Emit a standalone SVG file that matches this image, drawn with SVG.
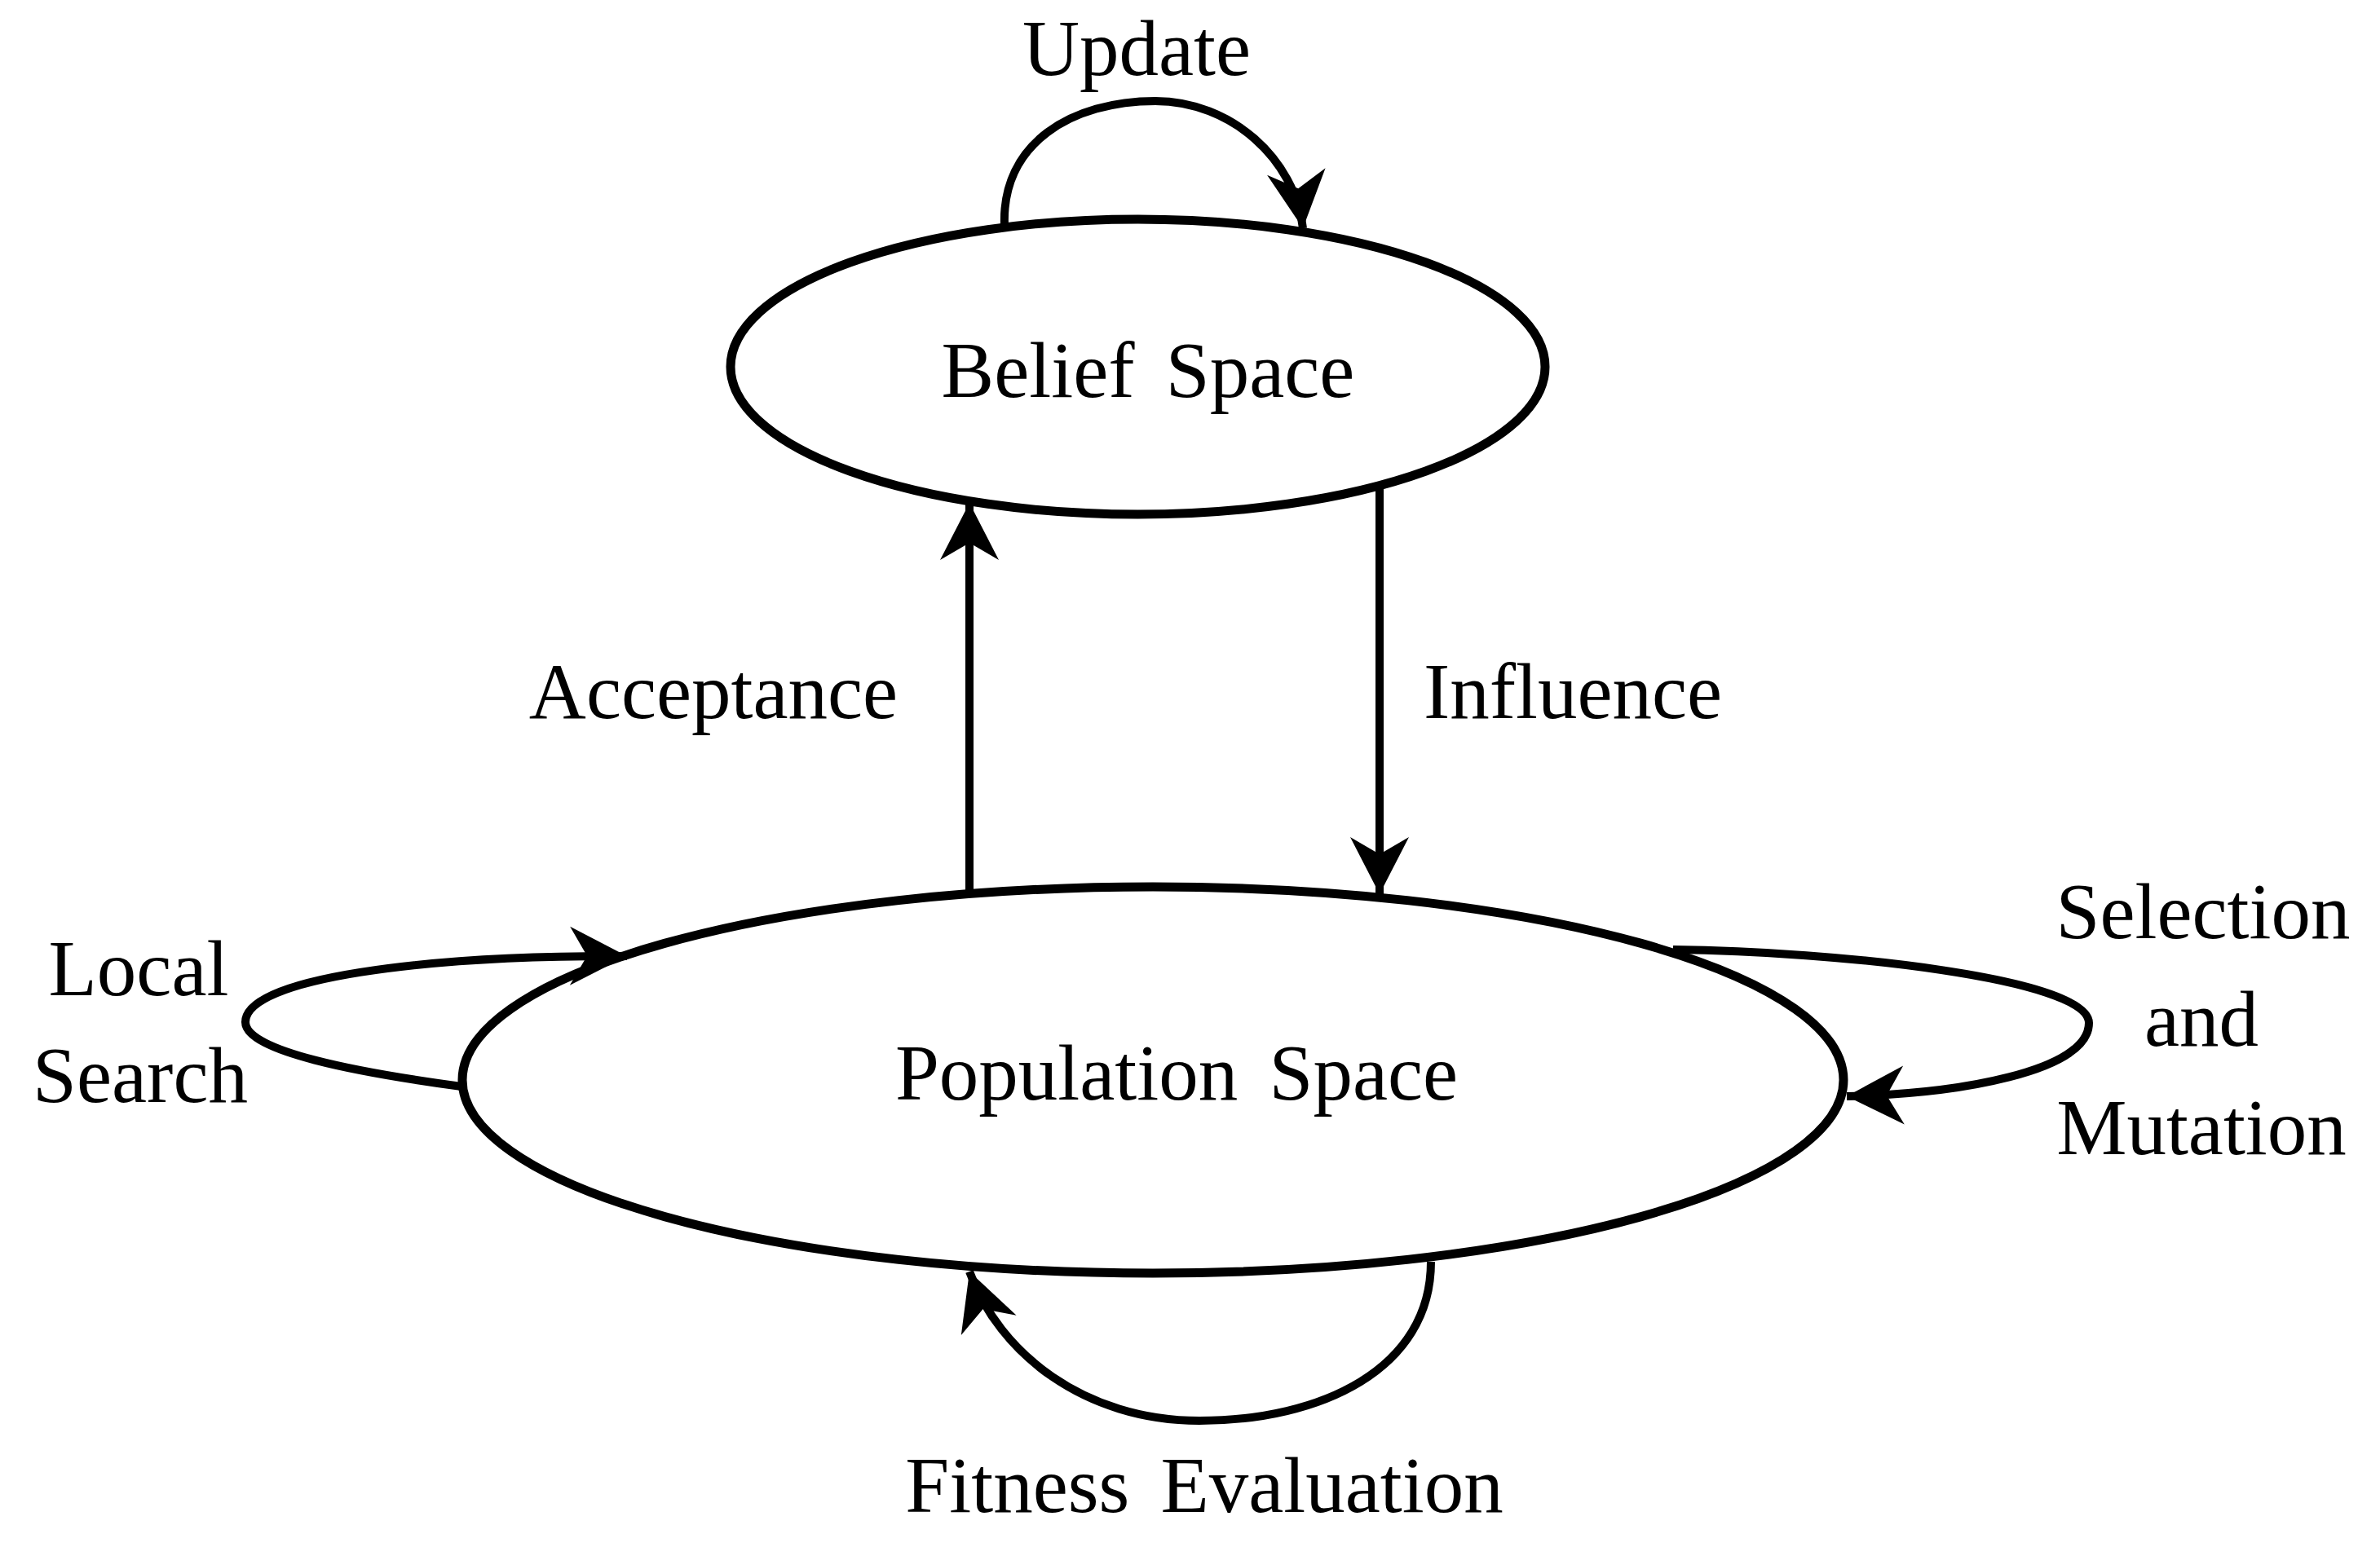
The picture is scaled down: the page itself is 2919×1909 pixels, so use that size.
<svg xmlns="http://www.w3.org/2000/svg" width="2919" height="1909" viewBox="0 0 2919 1909">
<style>
.node{fill:#fff;stroke:#000;stroke-width:11}
.edge{fill:none;stroke:#000;stroke-width:10;marker-end:url(#ah)}
text{font-family:"Liberation Serif","Times New Roman",serif;font-size:97px;fill:#000;text-anchor:middle}
.ws{word-spacing:14px}
</style>
<defs>
<marker id="ah" markerUnits="userSpaceOnUse" orient="auto" overflow="visible" markerWidth="1" markerHeight="1" refX="0" refY="0">
<path d="M0,0 L-70,-36 L-49,0 L-70,36 Z" fill="#000"/>
</marker>
</defs>
<rect width="2919" height="1909" fill="#fff"/>
<g id="belief-space">
<ellipse class="node" cx="1395.5" cy="450" rx="499.5" ry="181"/>
<text class="ws" x="1408" y="487">Belief Space</text>
</g>
<g id="population-space">
<ellipse class="node" cx="1414" cy="1325" rx="847" ry="237"/>
<text class="ws" x="1443" y="1349">Population Space</text>
</g>
<g id="connectors">
<path class="edge" d="M1232,277 C1228,175 1315,124 1417,124 C1510,124 1588,195 1598,280"/>
<path class="edge" d="M1189,1097 L1189,617"/>
<path class="edge" d="M1692,596 L1692,1097"/>
<path class="edge" d="M566,1333 C440,1316 301,1290 301,1254 C301,1200 520,1172 769,1173"/>
<path class="edge" d="M2052,1165 C2250,1167 2562,1200 2562,1255 C2562,1315 2400,1342 2265,1345"/>
<path class="edge" d="M1755,1548 C1755,1680 1620,1743 1471,1743 C1330,1743 1225,1660 1189,1560"/>
</g>
<g id="labels">
<text x="1394" y="92">Update</text>
<text x="875" y="881">Acceptance</text>
<text x="1929" y="881">Influence</text>
<text x="170" y="1221">Local</text>
<text x="172" y="1352">Search</text>
<text x="2702" y="1151">Selection</text>
<text x="2700" y="1283">and</text>
<text x="2700" y="1416">Mutation</text>
<text class="ws" x="1477" y="1855">Fitness Evaluation</text>
</g>
</svg>
